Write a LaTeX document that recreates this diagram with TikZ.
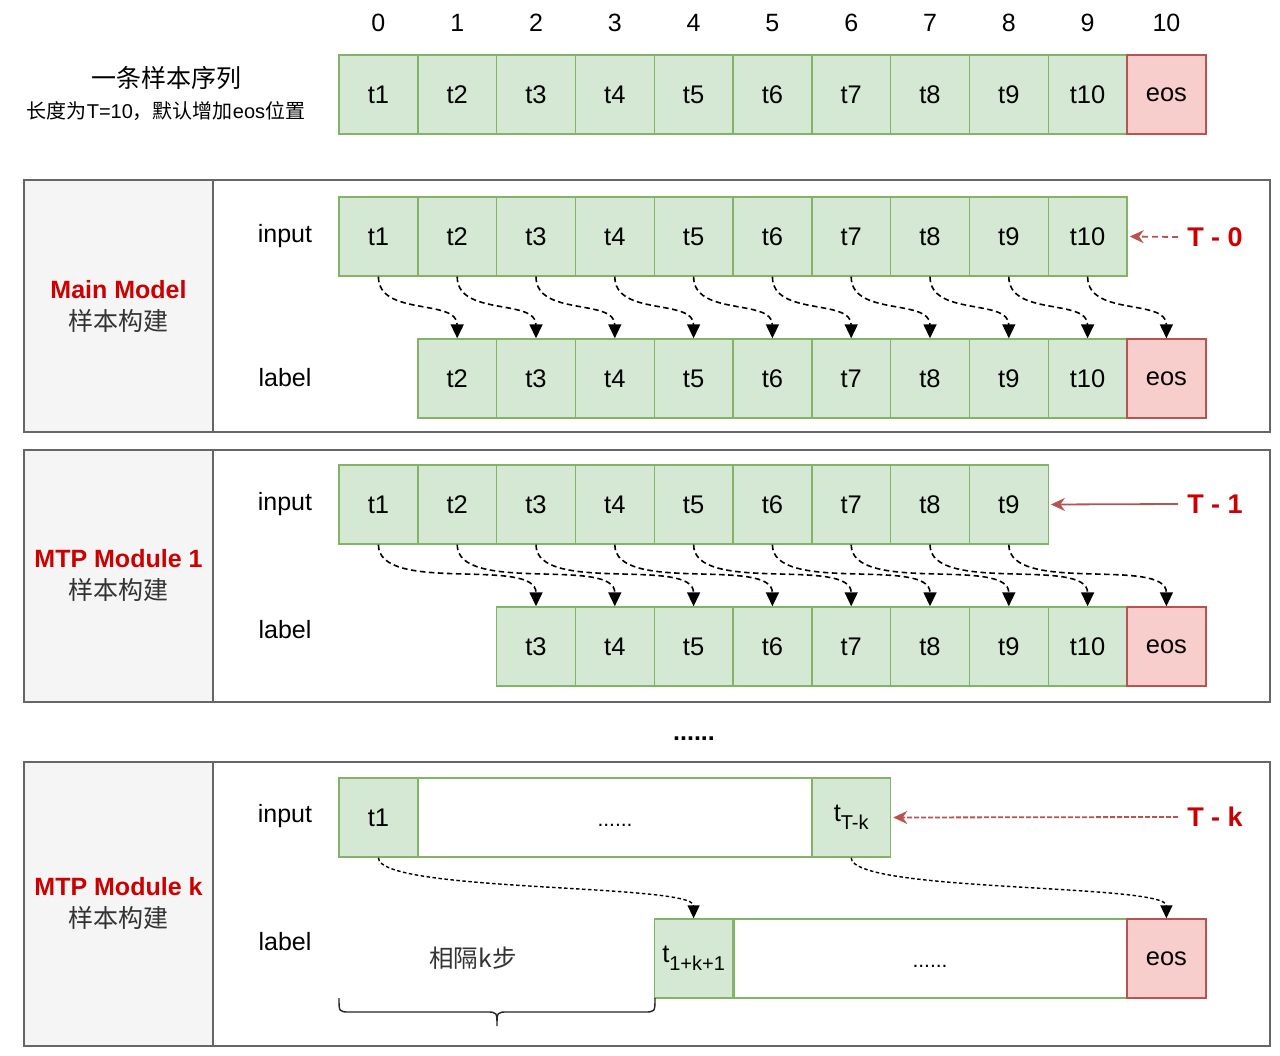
\documentclass[tikz,border=0pt]{standalone}
\usepackage{fontspec}
\setmainfont{Liberation Sans}
\newfontfamily\cjk{Noto Sans CJK SC}
\usetikzlibrary{arrows.meta,calc}
\definecolor{gfill}{HTML}{D5E8D4}
\definecolor{gline}{HTML}{82B366}
\definecolor{rfill}{HTML}{F8CECC}
\definecolor{rline}{HTML}{B85450}
\definecolor{panelfill}{HTML}{F5F5F5}
\definecolor{pline}{HTML}{666666}
\definecolor{tred}{HTML}{CC0000}
\definecolor{dgray}{HTML}{333333}
\tikzset{
  cellg/.style={draw=gline, fill=gfill, line width=1.4pt, minimum width=78.8pt, minimum height=79pt, inner sep=0pt, text=black, font=\fontsize{25.5}{29}\selectfont},
  cellr/.style={cellg, draw=rline, fill=rfill},
  wideg/.style={draw=gline, fill=white, line width=1.4pt, minimum width=394pt, minimum height=79pt, inner sep=0pt},
  leftcol/.style={draw=pline, fill=panelfill, line width=1.6pt, minimum width=189pt, inner sep=0pt},
  rightcol/.style={draw=pline, fill=white, line width=1.6pt, minimum width=1057pt, inner sep=0pt},
  rowlab/.style={font=\fontsize{25}{29}\selectfont, text=black},
  idx/.style={font=\fontsize{25}{29}\selectfont, text=black},
  modname/.style={font=\bfseries\fontsize{25}{29}\selectfont, text=tred},
  modsub/.style={font=\cjk\fontsize{25}{29}\selectfont, text=dgray},
  tlab/.style={font=\bfseries\fontsize{27}{31}\selectfont, text=tred, inner sep=9pt},
  flow/.style={draw=black, line width=1.6pt, dash pattern=on 5.5pt off 3.5pt, -{Triangle[width=13pt,length=14pt]}},
  flowk/.style={draw=black, line width=1.4pt, dash pattern=on 3.5pt off 2.5pt, -{Triangle[width=12pt,length=13pt]}},
  redarrow/.style={draw=rline, line width=1.8pt, -{Stealth[width=13pt,length=14pt]}},
}
\newcommand{\cx}[1]{339+78.8*(#1+0.5)}
\begin{document}
\begin{tikzpicture}[x=1pt,y=-1pt]
\useasboundingbox[fill=white] (0,0) rectangle (1280,1056);

% ---------- index numbers and sample row
\foreach \i in {0,...,10}{
  \node[idx] (n\i) at ({\cx{\i}},23) {\i};
}
\node[font=\cjk\fontsize{25}{29}\selectfont, text=black] (title1) at (166,78) {一条样本序列};
\node[font=\fontsize{20}{24}\selectfont, text=black] (title2) at (166,111) {{\cjk 长度为}T=10{\cjk ，默认增加}eos{\cjk 位置}};
\foreach \i in {0,...,9}{
  \pgfmathtruncatemacro\k{\i+1}
  \node[cellg] (s\i) at ({\cx{\i}},94.5) {t\k};
}
\node[cellr] (s10) at ({\cx{10}},94.5) {eos};

% ---------- panel 1: Main Model
\node[leftcol, minimum height=252pt] (p1l) at (118.5,306) {};
\node[rightcol, minimum height=252pt] (p1r) at (741.5,306) {};
\node[modname] (m1name) at (118.5,290) {Main Model};
\node[modsub] (m1sub) at (118.5,321) {样本构建};
\node[rowlab] (in1) at (285,236.5) {input};
\node[rowlab] (lb1) at (285,378) {label};
\foreach \i in {0,...,9}{
  \pgfmathtruncatemacro\k{\i+1}
  \node[cellg] (mi\i) at ({\cx{\i}},236.5) {t\k};
}
\foreach \i in {1,...,9}{
  \pgfmathtruncatemacro\k{\i+1}
  \node[cellg] (ml\i) at ({\cx{\i}},378.5) {t\k};
}
\node[cellr] (ml10) at ({\cx{10}},378.5) {eos};
\foreach \i in {0,...,9}{
  \pgfmathtruncatemacro\j{\i+1}
  \draw[flow] (mi\i.south) .. controls +(0,40) and +(0,-40) .. (ml\j.north);
}
\node[tlab] (T0) at (1215,237) {T - 0};
\draw[redarrow, dash pattern=on 6pt off 4pt] (T0.west) -- ($(mi9.east)+(2,0)$);

% ---------- panel 2: MTP Module 1
\node[leftcol, minimum height=252pt] (p2l) at (118.5,576) {};
\node[rightcol, minimum height=252pt] (p2r) at (741.5,576) {};
\node[modname] (m2name) at (118.5,559) {MTP Module 1};
\node[modsub] (m2sub) at (118.5,590) {样本构建};
\node[rowlab] (in2) at (285,504) {input};
\node[rowlab] (lb2) at (285,630) {label};
\foreach \i in {0,...,8}{
  \pgfmathtruncatemacro\k{\i+1}
  \node[cellg] (ai\i) at ({\cx{\i}},504.5) {t\k};
}
\foreach \i in {2,...,9}{
  \pgfmathtruncatemacro\k{\i+1}
  \node[cellg] (al\i) at ({\cx{\i}},646.5) {t\k};
}
\node[cellr] (al10) at ({\cx{10}},646.5) {eos};
\foreach \i in {0,...,8}{
  \pgfmathtruncatemacro\j{\i+2}
  \draw[flow] (ai\i.south) .. controls +(0,50) and +(0,-50) .. (al\j.north);
}
\node[tlab] (T1) at (1215,504) {T - 1};
\draw[redarrow] (T1.west) -- ($(ai8.east)+(2,0)$);

% ---------- separator
\node[font=\bfseries\fontsize{25}{29}\selectfont, anchor=base] (sep) at (694,740) {......};

% ---------- panel 3: MTP Module k
\node[leftcol, minimum height=284pt] (p3l) at (118.5,904) {};
\node[rightcol, minimum height=284pt] (p3r) at (741.5,904) {};
\node[modname] (m3name) at (118.5,887) {MTP Module k};
\node[modsub] (m3sub) at (118.5,918) {样本构建};
\node[rowlab] (in3) at (285,816) {input};
\node[rowlab] (lb3) at (285,942) {label};

\node[wideg] (kmid) at (615,817.5) {};
\node[cellg] (kin0) at ({\cx{0}},817.5) {t1};
\node[cellg] (kin6) at ({\cx{6}},817.5) {t\raisebox{-0.3em}{\fontsize{20}{21}\selectfont T-k}};
\node[font=\fontsize{21}{24}\selectfont, anchor=base] (kdots1) at (615,826) {......};

\node[wideg] (klmid) at (931,958.5) {};
\node[cellg] (kl4) at ({\cx{4}},958.5) {t\raisebox{-0.3em}{\fontsize{20}{21}\selectfont 1+k+1}};
\node[cellr] (kl10) at ({\cx{10}},958.5) {eos};
\node[font=\fontsize{21}{24}\selectfont, anchor=base] (kdots2) at (930,967) {......};

\draw[flowk] (kin0.south) .. controls +(0,35) and +(0,-35) .. (kl4.north);
\draw[flowk] (kin6.south) .. controls +(0,35) and +(0,-35) .. (kl10.north);

\node[tlab] (Tk) at (1215,817) {T - k};
\draw[redarrow, dash pattern=on 5pt off 2pt] (Tk.west) -- ($(kin6.east)+(2,0)$);

\node[font=\cjk\fontsize{24.5}{28}\selectfont, text=dgray] (gap) at (473,958) {相隔k步};
% brace
\draw[line width=1.4pt, draw=black!85]
  (339,998) .. controls (339,1012) .. (350,1012) -- (486,1012)
  .. controls (497,1012) .. (497,1026)
  .. controls (497,1012) .. (508,1012) -- (644,1012)
  .. controls (655,1012) .. (655,998);
\end{tikzpicture}
\end{document}
